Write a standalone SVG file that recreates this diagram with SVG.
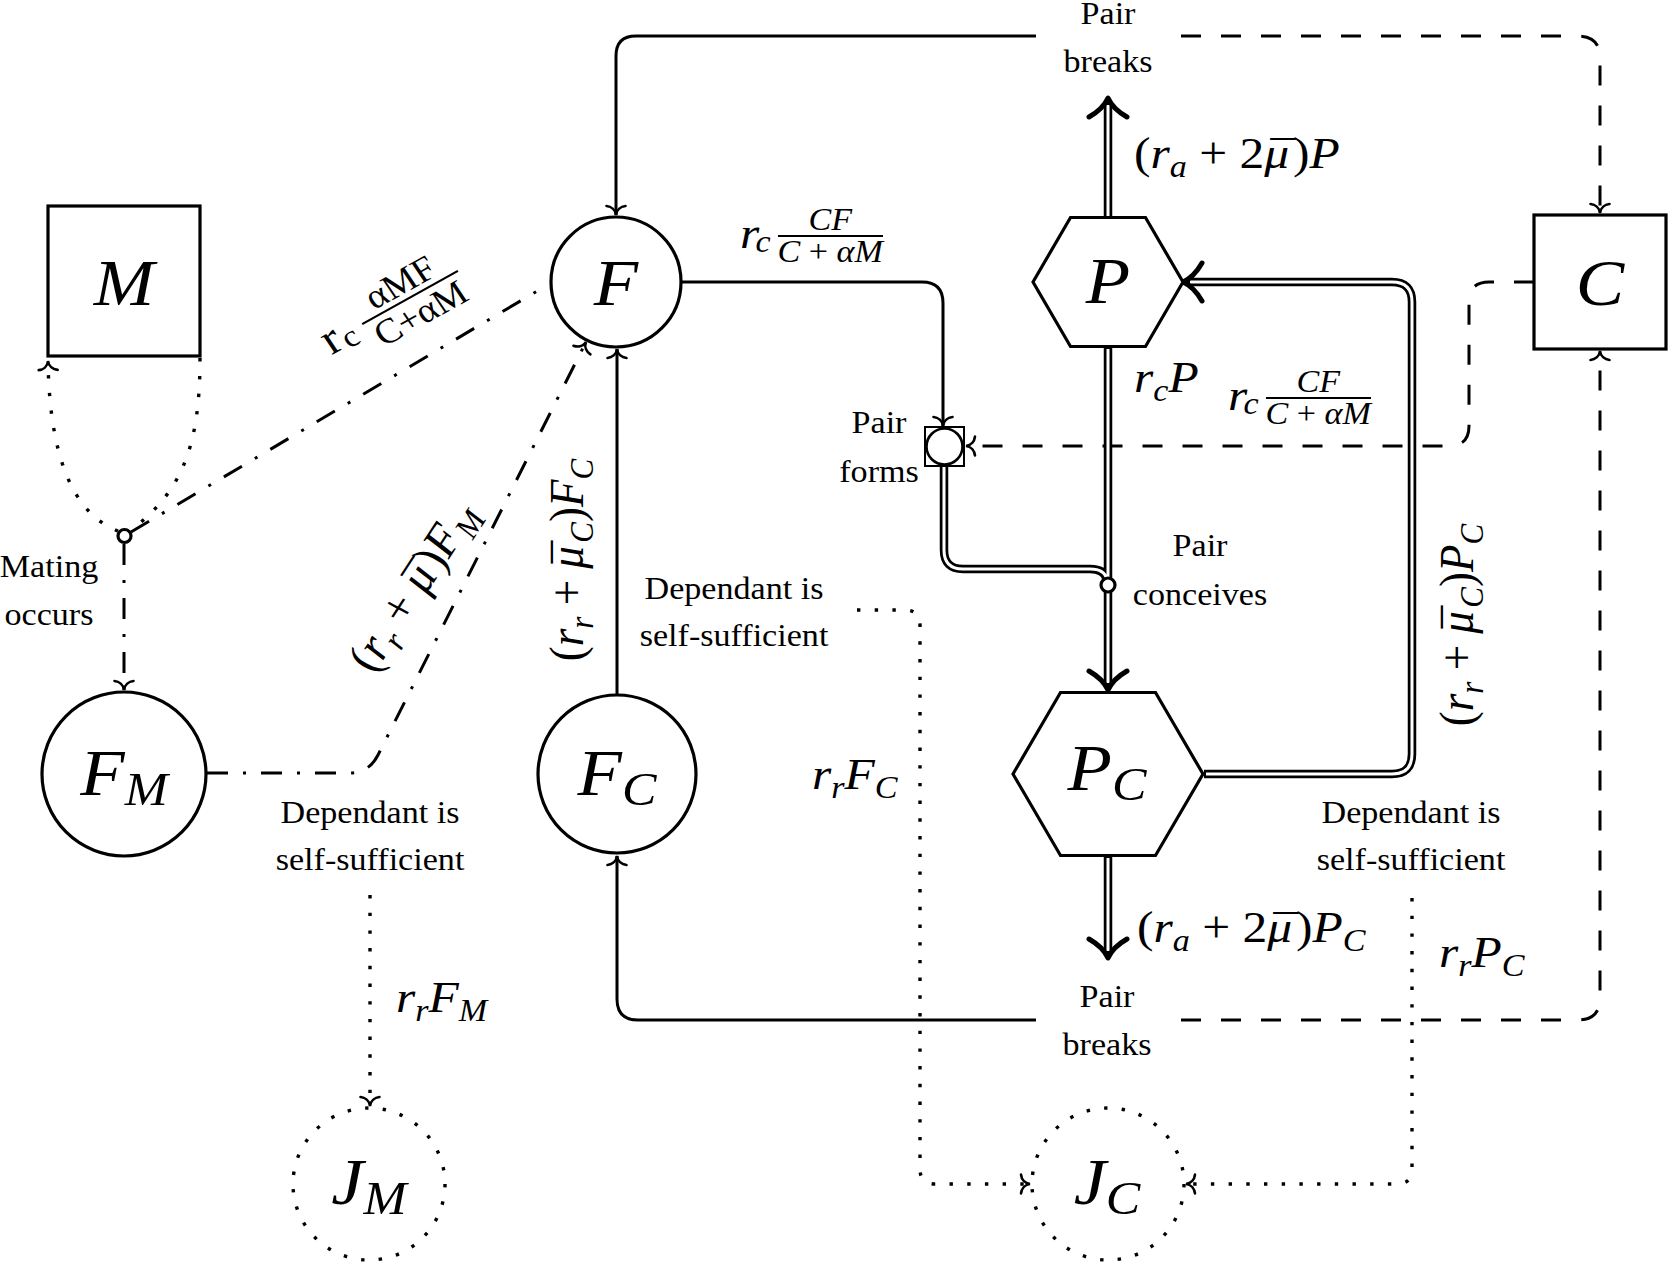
<svg xmlns="http://www.w3.org/2000/svg" width="1669" height="1266" viewBox="0 0 1669 1266">
<style>
  .ln{fill:none;stroke:#000;stroke-width:3}
  .dsh{stroke-dasharray:20 20}
  .dd{stroke-dasharray:21 15 3 15}
  .dot{stroke-dasharray:3.4 14.3;stroke-width:3.4}
  .dblo{fill:none;stroke:#000;stroke-width:8.5}
  .dbli{fill:none;stroke:#fff;stroke-width:3}
  .tip{fill:none;stroke:#000;stroke-width:5;stroke-linecap:round;stroke-linejoin:round}
  .nd{fill:#fff;stroke:#000;stroke-width:3.2}
  .jn{fill:#fff;stroke:#000;stroke-width:3.4;stroke-dasharray:3.4 14.28}
  .bar{stroke:#000;stroke-width:2}
  text{font-family:"Liberation Serif","Times New Roman",serif;fill:#000}
  .lbl{font-size:31px;text-anchor:middle}
  .m{font-size:45px}
  .i{font-style:italic}
  .s{font-style:italic;font-size:31px}
  .fr{font-size:31px;text-anchor:middle}
  .fu{font-size:35px;text-anchor:middle}
  .nl{font-size:66px;font-style:italic;text-anchor:middle}
  .ns{font-size:47px}
</style>
<defs>
  <marker id="to" markerUnits="userSpaceOnUse" markerWidth="24" markerHeight="24" viewBox="-12 -12 24 24" refX="0" refY="0" orient="auto" overflow="visible">
    <path d="M-9,-9.5 C-8.5,-5 -5.5,-0.6 0,0 C-5.5,0.6 -8.5,5 -9,9.5" fill="none" stroke="#000" stroke-width="2.6" stroke-linecap="round"/>
  </marker>
  <path id="dtip" class="tip" d="M-19,-19 C-15,-12 -9,-4 0,0 C-9,4 -15,12 -19,19"/>
</defs>

<!-- connectors -->
<g id="connectors">
  <!-- pair breaks (top) -> F, C -->
  <path class="ln" d="M1036,36 H636 Q616,36 616,56 V215" marker-end="url(#to)"/>
  <path class="ln dsh" d="M1181,36 H1578 Q1600,36 1600,58 V213" marker-end="url(#to)"/>
  <!-- pair breaks (bottom) -> F_C, C -->
  <path class="ln" d="M1036,1020 H638 Q617,1020 617,999 V856" marker-end="url(#to)"/>
  <path class="ln dsh" d="M1181,1020 H1578 Q1600,1020 1600,998 V351" marker-end="url(#to)"/>
  <!-- C -> pair forms -->
  <path class="ln dsh" d="M1534,282 H1489 Q1469,282 1469,302 V426 Q1469,446 1449,446 H966" marker-end="url(#to)"/>
  <!-- F -> pair forms -->
  <path class="ln" d="M682,282 H922 Q943,282 943,303 V426" marker-end="url(#to)"/>
  <!-- F_C -> F -->
  <path class="ln" d="M617,695 V349" marker-end="url(#to)"/>
  <!-- mating -->
  <path class="ln dd" d="M131,532 L549,284"/>
  <path class="ln dd" d="M124,544 V690" marker-end="url(#to)"/>
  <path class="ln dd" d="M207,773 H349 Q369,773 378,755 L586,342" marker-end="url(#to)"/>
  <path class="ln dot" d="M200,358 C200,440 185,490 131,530"/>
  <path class="ln dot" d="M118,531 C85,518 50,480 48,361" marker-end="url(#to)"/>
  <!-- dependants become self-sufficient -->
  <path class="ln dot" d="M857,610 H905 Q920,610 920,625 V1169 Q920,1184 935,1184 H1030" marker-end="url(#to)"/>
  <path class="ln dot" d="M1412,898 V1169 Q1412,1184 1397,1184 H1186" marker-end="url(#to)"/>
  <path class="ln dot" d="M370,895 V1106" marker-end="url(#to)"/>
  <!-- double-line flows -->
  <path class="dblo" d="M1108,218 V101 M1108,347 V687 M1108,856 V955 M1204,774 H1392 Q1412,774 1412,754 V302 Q1412,282 1392,282 H1186 M944,465 V550 Q944,569 963,569 H1090 Q1105,569 1107,580"/>
  <path class="dbli" d="M1108,216 V105 M1108,349 V683 M1108,858 V951 M1206,774 H1392 Q1412,774 1412,754 V302 Q1412,282 1392,282 H1190 M944,467 V550 Q944,569 963,569 H1090 Q1105,569 1107,580"/>
  <use href="#dtip" transform="translate(1108 98) rotate(-90)"/>
  <use href="#dtip" transform="translate(1108 690) rotate(90)"/>
  <use href="#dtip" transform="translate(1108 958) rotate(90)"/>
  <use href="#dtip" transform="translate(1183 282) rotate(180)"/>
</g>

<!-- rate labels -->
<g id="labels">
  <text class="m" transform="translate(1134 168) scale(1.1 1)">(<tspan class="i">r</tspan><tspan class="s" dy="9">a</tspan><tspan dy="-9"> + 2</tspan><tspan class="i">μ</tspan><tspan dx="-17" dy="4">¯</tspan><tspan dx="-2" dy="-4">)</tspan><tspan class="i">P</tspan></text>
  <text class="m" transform="translate(1137 942) scale(1.1 1)">(<tspan class="i">r</tspan><tspan class="s" dy="9">a</tspan><tspan dy="-9"> + 2</tspan><tspan class="i">μ</tspan><tspan dx="-17" dy="4">¯</tspan><tspan dx="-2" dy="-4">)</tspan><tspan class="i">P</tspan><tspan class="s" dy="9">C</tspan></text>
  <text class="m" transform="translate(1134 392) scale(1.1 1)"><tspan class="i">r</tspan><tspan class="s" dy="9">c</tspan><tspan class="i" dy="-9">P</tspan></text>

  <g transform="translate(740 248) scale(1.1 1)">
    <text class="m i">r</text><text class="s" x="14" y="4">c</text>
    <line class="bar" x1="34.5" y1="-12" x2="130" y2="-12"/>
    <text class="fr i" x="82" y="-18">CF</text>
    <text class="fr" x="82" y="14"><tspan class="i">C</tspan> + <tspan class="i">αM</tspan></text>
  </g>
  <g transform="translate(1228 410) scale(1.1 1)">
    <text class="m i">r</text><text class="s" x="14" y="4">c</text>
    <line class="bar" x1="34.5" y1="-12" x2="130" y2="-12"/>
    <text class="fr i" x="82" y="-18">CF</text>
    <text class="fr" x="82" y="14"><tspan class="i">C</tspan> + <tspan class="i">αM</tspan></text>
  </g>
  <g transform="translate(339 351) scale(1.1 1) rotate(-31.4)">
    <text class="m" x="-8">r</text><text x="9" y="3" font-size="31">c</text>
    <line class="bar" x1="32" y1="-12" x2="134" y2="-12"/>
    <text class="fu" x="83" y="-18">αMF</text>
    <text class="fu" x="83" y="18">C+αM</text>
  </g>

  <text class="m" text-anchor="middle" y="14" transform="translate(413 587) scale(1.1 1) rotate(-59.4)">(<tspan class="i">r</tspan><tspan class="s" dy="9">r</tspan><tspan dy="-9"> + </tspan><tspan class="i">μ</tspan><tspan dx="-17" dy="4">¯</tspan><tspan dx="-2" dy="-4">)</tspan><tspan class="i">F</tspan><tspan class="s" dy="9">M</tspan></text>
  <text class="m" text-anchor="middle" y="14" transform="translate(568 560) scale(1.1 1) rotate(-90)">(<tspan class="i">r</tspan><tspan class="s" dy="9">r</tspan><tspan dy="-9"> + </tspan><tspan class="i">μ</tspan><tspan dx="-17" dy="4">¯</tspan><tspan class="s" dx="-2" dy="5">C</tspan><tspan dy="-9">)</tspan><tspan class="i">F</tspan><tspan class="s" dy="9">C</tspan></text>
  <text class="m" text-anchor="middle" y="14" transform="translate(1458 625) scale(1.1 1) rotate(-90)">(<tspan class="i">r</tspan><tspan class="s" dy="9">r</tspan><tspan dy="-9"> + </tspan><tspan class="i">μ</tspan><tspan dx="-17" dy="4">¯</tspan><tspan class="s" dx="-2" dy="5">C</tspan><tspan dy="-9">)</tspan><tspan class="i">P</tspan><tspan class="s" dy="9">C</tspan></text>

  <text class="m" transform="translate(396 1012) scale(1.1 1)"><tspan class="i">r</tspan><tspan class="s" dy="9">r</tspan><tspan class="i" dy="-9">F</tspan><tspan class="s" dy="9">M</tspan></text>
  <text class="m" transform="translate(812 789) scale(1.1 1)"><tspan class="i">r</tspan><tspan class="s" dy="9">r</tspan><tspan class="i" dy="-9">F</tspan><tspan class="s" dy="9">C</tspan></text>
  <text class="m" transform="translate(1439 967) scale(1.1 1)"><tspan class="i">r</tspan><tspan class="s" dy="9">r</tspan><tspan class="i" dy="-9">P</tspan><tspan class="s" dy="9">C</tspan></text>

  <text class="lbl" transform="translate(734 599) scale(1.1 1)"><tspan x="0" y="0">Dependant is</tspan><tspan x="0" y="47">self-sufficient</tspan></text>
  <text class="lbl" transform="translate(370 823) scale(1.1 1)"><tspan x="0" y="0">Dependant is</tspan><tspan x="0" y="47">self-sufficient</tspan></text>
  <text class="lbl" transform="translate(1411 823) scale(1.1 1)"><tspan x="0" y="0">Dependant is</tspan><tspan x="0" y="47">self-sufficient</tspan></text>
</g>

<!-- nodes -->
<g id="node-M">
  <rect class="nd" x="48" y="206" width="152" height="150"/>
  <text class="nl" transform="translate(124 305) scale(1.1 1)">M</text>
</g>
<g id="node-F">
  <circle class="nd" cx="616" cy="282" r="65"/>
  <text class="nl" transform="translate(616 305) scale(1.1 1)">F</text>
</g>
<g id="node-C">
  <rect class="nd" x="1534" y="215" width="132" height="134"/>
  <text class="nl" transform="translate(1600 305) scale(1.1 1)">C</text>
</g>
<g id="node-P">
  <polygon class="nd" points="1033,282 1070.5,217.5 1145.5,217.5 1183,282 1145.5,346.5 1070.5,346.5"/>
  <text class="nl" transform="translate(1108 303) scale(1.1 1)">P</text>
</g>
<g id="node-PC">
  <polygon class="nd" points="1013,774 1060.5,692.5 1155.5,692.5 1203,774 1155.5,855.5 1060.5,855.5"/>
  <text class="nl" transform="translate(1107 790) scale(1.1 1)">P<tspan class="ns" dy="10">C</tspan></text>
</g>
<g id="node-FM">
  <circle class="nd" cx="124" cy="774" r="82"/>
  <text class="nl" transform="translate(124 795) scale(1.1 1)">F<tspan class="ns" dy="10">M</tspan></text>
</g>
<g id="node-FC">
  <circle class="nd" cx="617" cy="774" r="79"/>
  <text class="nl" transform="translate(617 795) scale(1.1 1)">F<tspan class="ns" dy="10">C</tspan></text>
</g>
<g id="node-JM">
  <circle class="jn" cx="369" cy="1184" r="76"/>
  <text class="nl" transform="translate(369 1204) scale(1.1 1)">J<tspan class="ns" dy="10">M</tspan></text>
</g>
<g id="node-JC">
  <circle class="jn" cx="1108" cy="1184" r="76"/>
  <text class="nl" transform="translate(1107 1204) scale(1.1 1)">J<tspan class="ns" dy="10">C</tspan></text>
</g>
<g id="node-mating">
  <circle class="nd" cx="124.5" cy="536" r="6.5"/>
  <text class="lbl" transform="translate(49 577) scale(1.1 1)"><tspan x="0" y="0">Mating</tspan><tspan x="0" y="48">occurs</tspan></text>
</g>
<g id="node-forms">
  <rect x="925" y="427" width="39" height="39" fill="#fff" stroke="#000" stroke-width="2"/>
  <circle cx="944.5" cy="446.5" r="18" fill="#fff" stroke="#000" stroke-width="2.6"/>
  <text class="lbl" transform="translate(879 433) scale(1.1 1)"><tspan x="0" y="0">Pair</tspan><tspan x="0" y="49">forms</tspan></text>
</g>
<g id="node-conceives">
  <circle class="nd" cx="1108" cy="585" r="7" stroke-width="2.6"/>
  <text class="lbl" transform="translate(1200 556) scale(1.1 1)"><tspan x="0" y="0">Pair</tspan><tspan x="0" y="49">conceives</tspan></text>
</g>
<g id="node-breaks-top">
  <text class="lbl" transform="translate(1108 24) scale(1.1 1)"><tspan x="0" y="0">Pair</tspan><tspan x="0" y="48">breaks</tspan></text>
</g>
<g id="node-breaks-bottom">
  <text class="lbl" transform="translate(1107 1007) scale(1.1 1)"><tspan x="0" y="0">Pair</tspan><tspan x="0" y="48">breaks</tspan></text>
</g>
</svg>
